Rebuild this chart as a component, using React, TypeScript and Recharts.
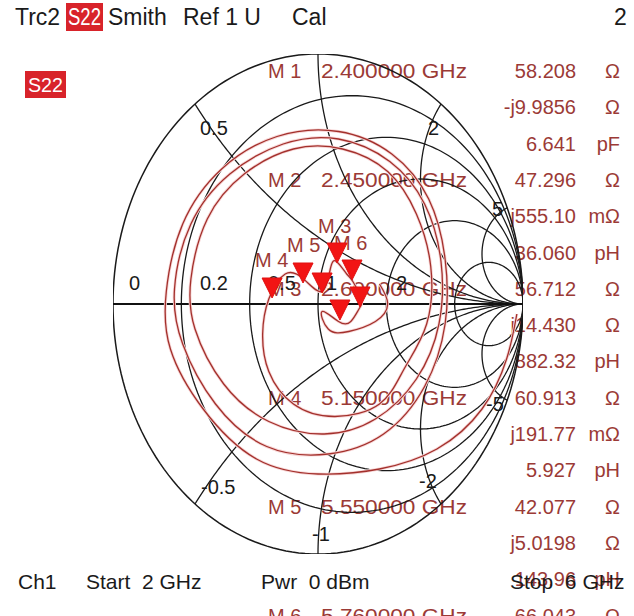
import React from 'react';
import { ScatterChart, Scatter, XAxis, YAxis } from 'recharts';

const W = 634;
const H = 616;
const PLOT = { left: 113, right: 523, top: 54, bottom: 554 };

// Smith grid values
const resistanceCircles = [0.2, 0.5, 1, 2, 5];
const reactanceArcs = [0.5, 1, 2, 5, -0.5, -1, -2, -5];

// Trace (reflection coefficient, re / im)
const traceEntry = [
  { x: 0.97, y: -0.04 }, { x: 0.92, y: -0.22 }, { x: 0.8, y: -0.42 }, { x: 0.58, y: -0.58 }, { x: 0.3, y: -0.66 },
];
const traceLoop1 = [
  { x: 0.0, y: -0.68 }, { x: -0.3, y: -0.62 }, { x: -0.56, y: -0.42 }, { x: -0.72, y: -0.18 }, { x: -0.74, y: 0.05 },
  { x: -0.66, y: 0.32 }, { x: -0.47, y: 0.54 }, { x: -0.2, y: 0.67 }, { x: 0.1, y: 0.69 }, { x: 0.36, y: 0.6 },
  { x: 0.54, y: 0.42 }, { x: 0.62, y: 0.18 }, { x: 0.62, y: -0.08 }, { x: 0.52, y: -0.33 }, { x: 0.32, y: -0.52 },
];
const traceLoop2 = [
  { x: 0.05, y: -0.6 }, { x: -0.25, y: -0.57 }, { x: -0.5, y: -0.4 }, { x: -0.66, y: -0.16 }, { x: -0.7, y: 0.06 },
  { x: -0.62, y: 0.32 }, { x: -0.43, y: 0.52 }, { x: -0.17, y: 0.64 }, { x: 0.1, y: 0.66 }, { x: 0.35, y: 0.57 },
  { x: 0.52, y: 0.4 }, { x: 0.6, y: 0.17 }, { x: 0.59, y: -0.08 }, { x: 0.48, y: -0.3 }, { x: 0.28, y: -0.46 },
];
const traceLoop3 = [
  { x: 0.03, y: -0.52 }, { x: -0.24, y: -0.47 }, { x: -0.46, y: -0.32 }, { x: -0.6, y: -0.1 }, { x: -0.62, y: 0.1 },
  { x: -0.54, y: 0.34 }, { x: -0.36, y: 0.52 }, { x: -0.12, y: 0.62 }, { x: 0.12, y: 0.62 }, { x: 0.34, y: 0.53 },
  { x: 0.48, y: 0.36 }, { x: 0.55, y: 0.15 }, { x: 0.53, y: -0.08 }, { x: 0.42, y: -0.26 },
];
const traceLoop4 = [
  { x: 0.3, y: -0.4 }, { x: 0.08, y: -0.45 }, { x: -0.12, y: -0.4 }, { x: -0.24, y: -0.27 }, { x: -0.27, y: -0.12 },
  { x: -0.24, y: 0.02 }, { x: -0.16, y: 0.12 }, { x: -0.07, y: 0.1 }, { x: 0.02, y: 0.05 }, { x: 0.06, y: 0.14 },
  { x: 0.09, y: 0.17 }, { x: 0.14, y: 0.12 }, { x: 0.17, y: 0.09 }, { x: 0.21, y: 0.02 }, { x: 0.2, y: -0.02 },
  { x: 0.16, y: -0.07 }, { x: 0.1, y: -0.07 },
];
const traceLoop5 = [
  { x: 0.02, y: -0.03 }, { x: 0.05, y: -0.1 }, { x: 0.15, y: -0.11 }, { x: 0.28, y: -0.07 }, { x: 0.34, y: 0.0 },
  { x: 0.3, y: 0.08 },
];

// Marker symbol positions, re / im
const markerPoints = [
  { x: -0.224, y: 0.024 }, { x: -0.073, y: 0.084 }, { x: 0.02, y: 0.044 }, { x: 0.093, y: 0.164 },
  { x: 0.166, y: 0.096 }, { x: 0.205, y: -0.012 }, { x: 0.107, y: -0.064 },
];

// Texts
const markerNames = ['M 1', 'M 2', 'M 3', 'M 4', 'M 5', 'M 6'];
const markerFreqs = ['2.400000 GHz', '2.450000 GHz', '2.600000 GHz', '5.150000 GHz', '5.550000 GHz', '5.760000 GHz'];
const readoutValues = [
  '58.208', '-j9.9856', '6.641',
  '47.296', 'j555.10', '36.060',
  '56.712', 'j14.430', '882.32',
  '60.913', 'j191.77', '5.927',
  '42.077', 'j5.0198', '143.96',
  '66.043',
];
const readoutUnits = [
  'Ω', 'Ω', 'pF',
  'Ω', 'mΩ', 'pH',
  'Ω', 'Ω', 'pH',
  'Ω', 'mΩ', 'pH',
  'Ω', 'Ω', 'pH',
  'Ω',
];
const markerSymbolLabels = [
  { t: 'M 4', x: 255, y: 267 },
  { t: 'M 5', x: 287, y: 252 },
  { t: 'M 3', x: 318, y: 233 },
  { t: 'M 6', x: 334, y: 250 },
];
const axisLabels = [
  { t: '0', x: 129, y: 290 },
  { t: '0.2', x: 200, y: 290 },
  { t: '0.5', x: 268, y: 290 },
  { t: '1', x: 326, y: 290 },
  { t: '2', x: 396, y: 290 },
  { t: '0.5', x: 200, y: 135 },
  { t: '2', x: 428, y: 135 },
  { t: '5', x: 492, y: 216 },
  { t: '-5', x: 486, y: 411 },
  { t: '-2', x: 419, y: 488 },
  { t: '-1', x: 312, y: 541 },
  { t: '-0.5', x: 201, y: 494 },
];

const FONT = '"Liberation Sans", Arial, sans-serif';
const READ_COLOR = '#9b3a36';

function arc(cx: number, cy: number, r: number, a0: number, a1: number, n: number) {
  const pts: { x: number; y: number }[] = [];
  for (let i = 0; i <= n; i++) {
    const a = a0 + ((a1 - a0) * i) / n;
    pts.push({ x: cx + r * Math.cos(a), y: cy + r * Math.sin(a) });
  }
  return pts;
}

function resistanceGrid(r: number) {
  return arc(r / (1 + r), 0, 1 / (1 + r), 0, Math.PI * 2, 200);
}

function reactanceGrid(xv: number) {
  const x = Math.abs(xv);
  let th = Math.atan2((x * x - 1) / (x * (x * x + 1)), -2 / (x * x + 1));
  if (th < 0) th += Math.PI * 2;
  const pts = arc(1, 1 / x, 1 / x, th, Math.PI * 1.5, 160);
  return xv < 0 ? pts.map((p) => ({ x: p.x, y: -p.y })) : pts;
}

const none = () => <g />;

const Tri = (props: any) => {
  const { cx, cy } = props;
  if (cx == null || cy == null) return <g />;
  return <polygon points={`${cx - 10},${cy - 20} ${cx + 10},${cy - 20} ${cx},${cy}`} fill="#f21414" stroke="#e01010" strokeWidth={1} />;
};

export default function App() {
  const outer = resistanceGrid(0);
  const axisLine = [{ x: -1, y: 0 }, { x: 1, y: 0 }];
  const trace = [...traceEntry, ...traceLoop1, ...traceLoop2, ...traceLoop3, ...traceLoop4, ...traceLoop5];
  const gridStroke = { stroke: '#1a1a1a', strokeWidth: 1.3, fill: 'none' };

  const rowCenter = (i: number) => 71 + 36.3 * i;
  const markerRows = [0, 3, 6, 9, 12, 15];

  return (
    <div style={{ position: 'absolute', left: 0, top: 0, width: W, height: H, background: '#fff', overflow: 'hidden' }}>
      <svg width={W} height={H} style={{ position: 'absolute', left: 0, top: 0 }} fontFamily={FONT}>
        {/* header */}
        <g fontSize={23} fill="#1a1a1a">
          <text x={15} y={25}>Trc2</text>
          <rect x={66} y={3} width={37} height={28} fill="#d8232a" />
          <text x={68} y={25} fill="#fff" textLength={33} lengthAdjust="spacingAndGlyphs">S22</text>
          <text x={108} y={25}>Smith</text>
          <text x={183} y={25}>Ref 1 U</text>
          <text x={292} y={25}>Cal</text>
          <text x={614} y={25}>2</text>
        </g>
        <rect x={25} y={71} width={41} height={27} fill="#d8232a" />
        <text x={28} y={92} fill="#fff" fontSize={21} textLength={35} lengthAdjust="spacingAndGlyphs">S22</text>

        {/* marker readout rows */}
        <g fontSize={20} fill={READ_COLOR}>
          {markerNames.map((m, k) => {
            const y = rowCenter(markerRows[k]) + 7;
            return (
              <g key={m}>
                <text x={268} y={y}>{m}</text>
                <text x={321} y={y} textLength={146} lengthAdjust="spacingAndGlyphs">{markerFreqs[k]}</text>
              </g>
            );
          })}
          {readoutValues.map((v, i) => (
            <text key={'v' + i} x={576} y={rowCenter(i) + 7} textAnchor="end">{v}</text>
          ))}
          {readoutUnits.map((u, i) => (
            <text key={'u' + i} x={620} y={rowCenter(i) + 7} textAnchor="end">{u}</text>
          ))}
          {markerSymbolLabels.map((m) => (
            <text key={m.t} x={m.x} y={m.y}>{m.t}</text>
          ))}
        </g>

        {/* axis labels */}
        <g fontSize={20} fill="#1a1a1a">
          {axisLabels.map((a, i) => (
            <text key={i} x={a.x} y={a.y}>{a.t}</text>
          ))}
        </g>

        {/* footer */}
        <g fontSize={21} fill="#1a1a1a">
          <text x={18} y={589}>Ch1</text>
          <text x={86} y={589}>Start&#160;&#160;2 GHz</text>
          <text x={261} y={589}>Pwr&#160;&#160;0 dBm</text>
          <text x={510} y={589}>Stop&#160;&#160;6 GHz</text>
        </g>
      </svg>

      <div style={{ position: 'absolute', left: 0, top: 0 }}>
        <ScatterChart
          width={W}
          height={H}
          margin={{ left: PLOT.left, right: W - PLOT.right, top: PLOT.top, bottom: H - PLOT.bottom }}
        >
          <XAxis type="number" dataKey="x" domain={[-1, 1]} hide allowDataOverflow />
          <YAxis type="number" dataKey="y" domain={[-1, 1]} hide allowDataOverflow />
          <Scatter data={outer} line={{ ...gridStroke, strokeWidth: 1.5 }} shape={none} isAnimationActive={false} />
          {resistanceCircles.map((r) => (
            <Scatter key={'r' + r} data={resistanceGrid(r)} line={gridStroke} shape={none} isAnimationActive={false} />
          ))}
          {reactanceArcs.map((x) => (
            <Scatter key={'x' + x} data={reactanceGrid(x)} line={gridStroke} shape={none} isAnimationActive={false} />
          ))}
          <Scatter data={axisLine} line={{ stroke: '#111', strokeWidth: 2 }} shape={none} isAnimationActive={false} />
          <Scatter data={trace} line={{ stroke: '#f7d6d6', strokeWidth: 3, fill: 'none' }} lineJointType="natural" shape={none} isAnimationActive={false} />
          <Scatter data={trace} line={{ stroke: '#a3302c', strokeWidth: 1.3, fill: 'none' }} lineJointType="natural" shape={none} isAnimationActive={false} />
          <Scatter data={markerPoints} shape={Tri} isAnimationActive={false} />
        </ScatterChart>
      </div>
    </div>
  );
}
